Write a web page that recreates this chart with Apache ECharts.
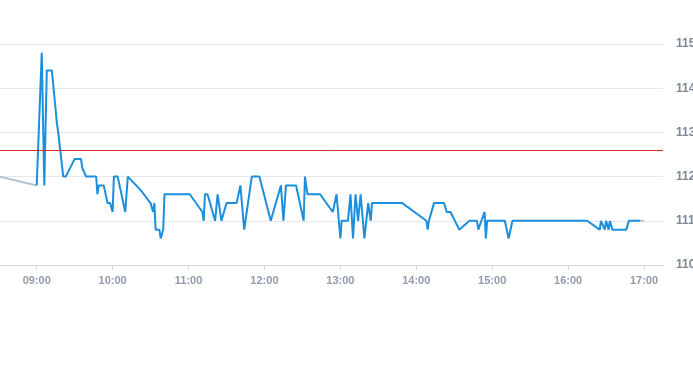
<!DOCTYPE html>
<html>
<head>
<meta charset="utf-8">
<script src="https://cdn.jsdelivr.net/npm/echarts@6/dist/echarts.min.js"></script>
<style>html,body{margin:0;padding:0;background:#fff;}#c{width:693px;height:365px;}</style>
</head>
<body>
<div id="c"></div>
<script>
const times = ["09:00","09:04","09:06","09:08","09:12","09:16","09:17","09:21","09:23","09:30","09:35","09:36","09:39","09:47","09:48","09:49","09:53","09:56","09:58","10:00","10:01","10:04","10:07","10:10","10:12","10:22","10:26","10:30","10:32","10:33","10:34","10:37","10:38","10:40","10:41","11:01","11:11","11:12","11:13","11:15","11:21","11:23","11:26","11:30","11:38","11:41","11:44","11:50","11:56","12:05","12:13","12:15","12:17","12:25","12:31","12:32","12:34","12:44","12:54","12:57","13:00","13:01","13:06","13:08","13:10","13:12","13:14","13:16","13:19","13:22","13:24","13:25","13:49","14:08","14:09","14:10","14:14","14:22","14:24","14:27","14:34","14:42","14:48","14:49","14:54","14:55","14:56","15:10","15:13","15:16","16:15","16:25","16:26","16:29","16:30","16:32","16:33","16:35","16:46","16:48","16:57"];
const prices = [111.8,114.8,111.8,114.4,114.4,113.2,113.0,112.0,112.0,112.4,112.4,112.2,112.0,112.0,111.6,111.8,111.8,111.4,111.4,111.2,112.0,112.0,111.6,111.2,112.0,111.7,111.55,111.4,111.2,111.4,110.8,110.8,110.6,110.8,111.6,111.6,111.2,111.0,111.6,111.6,111.0,111.6,111.0,111.4,111.4,111.8,110.8,112.0,112.0,111.0,111.8,111.0,111.8,111.8,111.0,112.0,111.6,111.6,111.2,111.6,110.6,111.0,111.0,111.6,110.6,111.6,111.0,111.6,110.6,111.4,111.0,111.4,111.4,111.0,110.8,111.0,111.4,111.4,111.2,111.2,110.8,111.0,111.0,110.8,111.2,110.6,111.0,111.0,110.6,111.0,111.0,110.8,111.0,110.8,111.0,110.8,111.0,110.8,110.8,111.0,111.0];
const preTimes = ["08:31","09:00"];
const preValues = [112.0,111.8];
const postTimes = ["16:57","17:00"];
const postValues = [111.0,111.0];
const refPrice = 112.6;
const axisMin = "08:31", axisMax = "17:15";
const yTicks = [110,111,112,113,114,115];

function ts(hm){const p=hm.split(':');return new Date(2024,0,2,+p[0],+p[1]).getTime();}
function pairs(t,v){return t.map((x,i)=>[ts(x),v[i]]);}
function pad(n){return (n<10?'0':'')+n;}

const chart = echarts.init(document.getElementById('c'));
chart.setOption({
  animation:false,
  grid:{left:0,right:30,top:44,bottom:100,outerBoundsMode:'none',containLabel:false},
  xAxis:{
    type:'time', min:ts(axisMin), max:ts(axisMax),
    minInterval:3600000, maxInterval:3600000,
    axisLine:{lineStyle:{color:'#d4d8de'}},
    axisTick:{show:true,length:5,lineStyle:{color:'#d4d8de'}},
    splitLine:{show:false},
    axisLabel:{color:'#919baa',fontSize:11,fontWeight:'bold',fontFamily:'Liberation Sans, Arial, sans-serif',margin:10,
      showMinLabel:false,showMaxLabel:false,
      formatter:function(v){const d=new Date(v);return pad(d.getHours())+':'+pad(d.getMinutes());}}
  },
  yAxis:{
    type:'value', position:'right', min:yTicks[0], max:yTicks[yTicks.length-1], interval:1,
    axisLine:{show:false}, axisTick:{show:false},
    splitLine:{lineStyle:{color:'#e6e8eb'}},
    axisLabel:{color:'#7d8894',fontSize:12,fontWeight:'bold',fontFamily:'Liberation Sans, Arial, sans-serif',margin:13,padding:[4,0,0,0]}
  },
  series:[
    {type:'line',data:pairs(preTimes,preValues),symbol:'none',lineStyle:{color:'#b7c2cf',width:2},silent:true},
    {type:'line',data:pairs(postTimes,postValues),symbol:'none',lineStyle:{color:'#b7c2cf',width:2},silent:true},
    {type:'line',data:pairs(times,prices),symbol:'none',lineStyle:{color:'#1a8fdc',width:2},
      markLine:{symbol:'none',silent:true,label:{show:false},lineStyle:{color:'#d0312d',width:1,type:'solid'},data:[{yAxis:refPrice}]}}
  ]
});
</script>
</body>
</html>
